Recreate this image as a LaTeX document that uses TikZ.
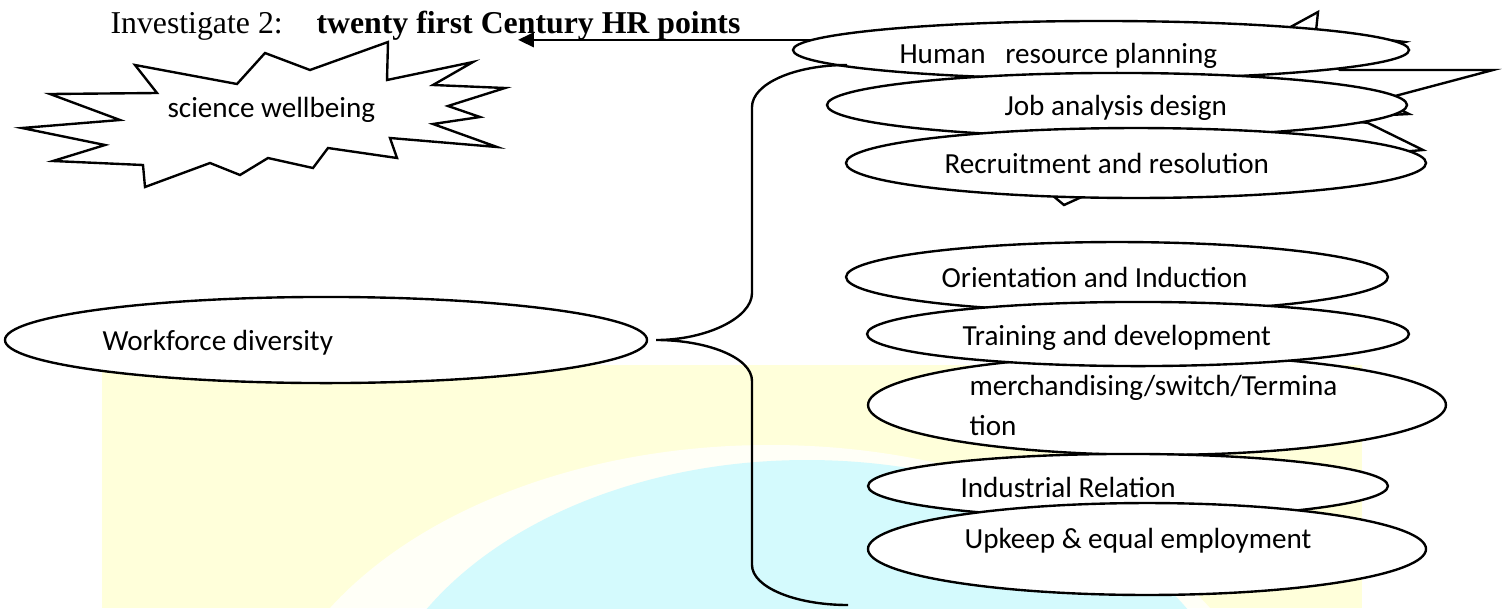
\documentclass[tikz,border=0pt]{standalone}
\usepackage{fontspec}
\setmainfont{Liberation Serif}
\newfontfamily\calib{Carlito}
\usetikzlibrary{shapes.geometric,arrows.meta}
\definecolor{wmyellow}{RGB}{255,255,218}
\definecolor{wmcyan}{RGB}{212,250,253}
\tikzset{
  ell/.style={draw, ellipse, fill=white, line width=0.9pt, inner sep=0pt},
  lbl/.style={anchor=base west, inner sep=0pt, font=\calib\fontsize{11}{13}\selectfont},
  ttl/.style={anchor=base west, inner sep=0pt, font=\fontsize{12}{14}\selectfont},
  conn/.style={line width=0.9pt},
  burst/.style={draw, fill=white, line width=0.9pt, line join=miter}
}
\begin{document}
\begin{tikzpicture}[x=0.3774pt, y=-0.3774pt]
\useasboundingbox (0,0) rectangle (1502,608);
% watermark
\begin{scope}
\clip (102,365) rectangle (1362,608);
\fill[wmyellow] (102,365) rectangle (1362,608);
\fill[white, opacity=.8] (770,775) ellipse[x radius=510, y radius=330];
\fill[wmcyan] (807,760) ellipse[x radius=440, y radius=300];
\end{scope}
% title
\node[ttl] (ttla) at (110,33) {Investigate 2:};
\node[ttl] (ttlb) at (316,33) {\textbf{twenty first Century HR points}};
% left starburst
\draw[burst] (135,65) -- (237,84) -- (265,53) -- (310,70) -- (388,42) -- (387,80) -- (473,62) -- (433,85) -- (505,88) -- (448,106) -- (480,117) -- (433,124) -- (497,147) -- (390,138) -- (397,158) -- (328,148) -- (313,168) -- (268,158) -- (240,175) -- (210,163) -- (145,187) -- (143,165) -- (53,161) -- (105,145) -- (22,128) -- (120,120) -- (50,94) -- (157,93) -- cycle;
\node[lbl] (sw) at (167,117) {science wellbeing};
% right starburst (mostly hidden)
\draw[burst] (1285,30) -- (1318,12) -- (1316,31) -- (1405,42) -- (1330,62) -- (1340,70) -- (1493,70) -- (1380,100) -- (1409,114) -- (1330,118) -- (1368,123) -- (1423,150) -- (1400,152) -- (1200,185) -- (1086,195) -- (1064,205) -- (1040,185) -- (950,165) -- (1100,140) -- (900,110) -- (1110,76) -- (880,45) -- cycle;
% top right ellipses
\node[ell, minimum width=232.5pt, minimum height=21.9pt] (hrp) at (1101,50) {};
\node[lbl] (thrp) at (899,63) {Human\ \ \ resource planning};
\node[ell, minimum width=218.9pt, minimum height=24.2pt] (jad) at (1117,105) {};
\node[lbl] (tjad) at (1004,115) {Job analysis design};
\node[ell, minimum width=218.9pt, minimum height=26.4pt] (rr) at (1136,163) {};
\node[lbl] (trr) at (944,173) {Recruitment and resolution};
% lower right ellipses
\node[ell, minimum width=204.5pt, minimum height=26.4pt] (oi) at (1117,277) {};
\node[lbl] (toi) at (941,287) {Orientation and Induction};
\node[ell, minimum width=218.1pt, minimum height=37.7pt] (mst) at (1157,405) {};
\node[lbl] (tmst1) at (969,395) {merchandising/switch/Termina};
\node[lbl] (tmst2) at (969,435) {tion};
\node[ell, minimum width=204.5pt, minimum height=24.2pt] (td) at (1138,334) {};
\node[lbl] (ttd) at (962,345) {Training and development};
\node[ell, minimum width=196.2pt, minimum height=24.2pt] (ir) at (1128,486) {};
\node[lbl] (tir) at (960,497) {Industrial Relation};
\node[ell, minimum width=210.6pt, minimum height=34.7pt] (ue) at (1147,549) {};
\node[lbl] (tue) at (964,548) {Upkeep \& equal employment};
% left ellipse
\node[ell, minimum width=242.3pt, minimum height=32.5pt] (wd) at (326,340) {};
\node[lbl] (twd) at (102,350) {Workforce diversity};
% brace
\coordinate (bt) at (847,65);
\coordinate (tip) at ([xshift=3pt]wd.east);
\coordinate (bb) at (848,605);
\draw[conn] (bt) .. controls (794,65) and (752,84) .. (752,107) -- (752,293)
  .. controls (752,318) and (706,340) .. (tip)
  .. controls (706,340) and (752,357) .. (752,381) -- (752,565)
  .. controls (752,587) and (795,605) .. (bb);
% arrow
\coordinate (atip) at (518,0);
\draw[conn, -{Triangle[length=6pt,width=5.5pt]}] (hrp.178) -- (hrp.178 -| atip);
\end{tikzpicture}
\end{document}
